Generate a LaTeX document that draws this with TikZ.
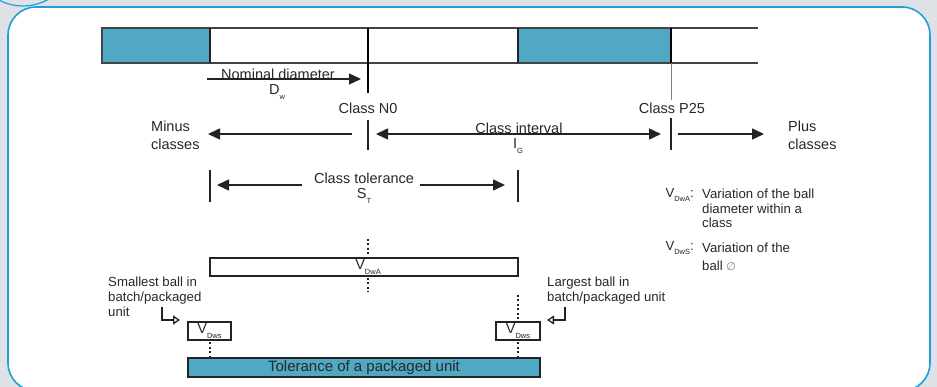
\documentclass[tikz,border=0pt]{standalone}
\usepackage{fontspec}
\setmainfont{Liberation Sans}
\newfontfamily\dejavu{DejaVu Sans}
\usetikzlibrary{arrows.meta}
\definecolor{bg}{RGB}{222,226,231}
\definecolor{frame}{RGB}{30,160,215}
\definecolor{fillb}{RGB}{80,168,196}
\definecolor{txt}{RGB}{40,40,40}
\definecolor{ln}{RGB}{35,35,35}
\newcommand{\subs}[1]{\raisebox{-0.3em}{\fontsize{7.5}{8}\selectfont #1}}
\begin{document}
\begin{tikzpicture}[x=1pt,y=-1pt,
  lbl/.style={font=\fontsize{14.5}{16}\selectfont, text=txt, inner sep=0pt, align=center},
  sml/.style={font=\fontsize{13.2}{15}\selectfont, text=txt, inner sep=0pt, align=left},
  arr/.style={-{Triangle[length=12pt,width=11pt]}, line width=1.5pt, draw=ln},
  darr/.style={{Triangle[length=12pt,width=11pt]}-{Triangle[length=12pt,width=11pt]}, line width=1.5pt, draw=ln},
  hook/.style={-{Triangle[open,length=7pt,width=9pt,line width=1.3pt]}, line width=2.2pt, draw=ln},
  vline/.style={line width=1.4pt, draw=ln},
  thick line/.style={line width=2.2pt, draw=black},
  dots/.style={line width=1.4pt, draw=ln, dash pattern=on 2pt off 2.5pt},
  boxline/.style={line width=1.4pt, draw=ln}]
\useasboundingbox (0,0) rectangle (937,387);
\fill[bg] (0,0) rectangle (937,387);
\draw[frame, line width=1.2pt] (23,-45) circle (51);
\draw[frame, line width=1.6pt, fill=white, rounded corners=28pt] (8,7) rectangle (930,391);

% top bar
\fill[fillb] (102,28) rectangle (210,63);
\fill[fillb] (518,28) rectangle (671,63);
\draw[line width=1.4pt, draw=ln!85] (758,28) -- (102,28) -- (102,63) -- (758,63);
\draw[line width=1.1pt, draw=ln] (210,28) -- (210,63);
\draw[line width=1.1pt, draw=ln] (518,28) -- (518,63);
\coordinate (n0top) at (368,28);
\coordinate (n0a) at (368,93);
\coordinate (n0b) at (368,120);
\coordinate (n0c) at (368,150);
\draw[thick line] (n0top) -- (n0a);
\draw[vline] (n0b) -- (n0c);
\coordinate (p25top) at (671,28);
\coordinate (p25mid) at (671,63);
\coordinate (p25a) at (671,100);
\coordinate (p25b) at (671,118);
\coordinate (p25c) at (671,150);
\draw[thick line] (p25top) -- (p25mid);
\draw[line width=0.6pt, draw=gray] (p25mid) -- (p25a);
\draw[vline] (p25b) -- (p25c);
\node[lbl] (n0) at (368,108) {Class N0};
\node[lbl] (p25) at (672,108) {Class P25};

% nominal diameter
\coordinate (nd1) at (207,79);
\coordinate (nd2) at (361,79);
\draw[arr, line width=1.1pt] (nd1) -- (nd2);
\node[lbl] (ndt) at (278,74) {Nominal diameter};
\node[lbl] (dw) at (277,92) {D\subs{w}};

% class row
\coordinate (m1) at (352,134);
\coordinate (m2) at (208,134);
\draw[arr] (m1) -- (m2);
\node[sml, font=\fontsize{14.5}{18}\selectfont, anchor=west] (minus) at (151,135) {Minus\\classes};
\coordinate (ci1) at (376,134);
\coordinate (ci2) at (661,134);
\draw[darr] (ci1) -- (ci2);
\node[lbl] (cit) at (519,128) {Class interval};
\node[lbl] (ig) at (518,146) {I\subs{G}};
\coordinate (pl1) at (678,134);
\coordinate (pl2) at (764,134);
\draw[arr] (pl1) -- (pl2);
\node[sml, font=\fontsize{14.5}{18}\selectfont, anchor=west] (plus) at (788,135) {Plus\\classes};

% class tolerance
\coordinate (tl1) at (210,170);
\coordinate (tl2) at (210,202);
\coordinate (tr1) at (518,170);
\coordinate (tr2) at (518,202);
\draw[vline] (tl1) -- (tl2);
\draw[vline] (tr1) -- (tr2);
\coordinate (ta1) at (302,185);
\coordinate (ta2) at (217,185);
\coordinate (tb1) at (420,185);
\coordinate (tb2) at (505,185);
\draw[arr] (ta1) -- (ta2);
\draw[arr] (tb1) -- (tb2);
\node[lbl] (ctt) at (364,178.5) {Class tolerance};
\node[lbl] (st) at (364,196) {S\subs{T}};

% legend
\node[sml, anchor=east] (lva) at (694,195) {V\subs{DwA}:};
\node[sml, anchor=north west, font=\fontsize{13.2}{14.5}\selectfont] (lvat) at (702,189) {Variation of the ball\\diameter within a\\class};
\node[sml, anchor=east] (lvs) at (694,248) {V\subs{DwS}:};
\node[sml, anchor=west] (lvst) at (702,248) {Variation of the};
\node[sml, anchor=west] (lvst2) at (702,266) {ball {\dejavu\color{gray}\fontsize{11}{13}\selectfont ∅}};

% VDwA bar
\node[boxline, draw, minimum width=308pt, minimum height=18pt, inner sep=0pt] (vdwa) at (364,267) {};
\node[lbl] (vdwat) at (368,267) {V\subs{DwA}};
\coordinate (va1) at (368,239);
\coordinate (va2) at (368,256);
\coordinate (va3) at (368,278);
\coordinate (va4) at (368,292);
\draw[dots] (va1) -- (va2);
\draw[dots] (va3) -- (va4);

% small boxes
\node[boxline, draw, minimum width=43pt, minimum height=18pt, inner sep=0pt, font=\fontsize{14.5}{16}\selectfont, text=txt] (vl) at (209.5,331) {V\subs{Dws}};
\node[boxline, draw, minimum width=44pt, minimum height=18pt, inner sep=0pt, font=\fontsize{14.5}{16}\selectfont, text=txt] (vr) at (518,331) {V\subs{Dws}};
\coordinate (dl1) at (210,342);
\coordinate (dl2) at (210,356);
\draw[dots] (dl1) -- (dl2);
\coordinate (dr0) at (518,295);
\coordinate (dr1) at (518,320);
\coordinate (dr2) at (518,342);
\coordinate (dr3) at (518,356);
\draw[dots] (dr0) -- (dr1);
\draw[dots] (dr2) -- (dr3);

% tolerance bar
\node[boxline, draw, fill=fillb, minimum width=352pt, minimum height=19pt, inner sep=0pt, font=\fontsize{15}{16}\selectfont, text=txt] (tol) at (364,367.5) {Tolerance of a packaged unit};

% smallest / largest
\node[sml, anchor=north west] (small) at (108,277) {Smallest ball in\\batch/packaged\\unit};
\node[sml, anchor=north west] (large) at (547,277) {Largest ball in\\batch/packaged unit};
\coordinate (h1a) at (162,307);
\coordinate (h1b) at (162,320);
\coordinate (h1c) at (180,320);
\draw[hook] (h1a) -- (h1b) -- (h1c);
\coordinate (h2a) at (565,307);
\coordinate (h2b) at (565,320);
\coordinate (h2c) at (547,320);
\draw[hook] (h2a) -- (h2b) -- (h2c);
\end{tikzpicture}
\end{document}
